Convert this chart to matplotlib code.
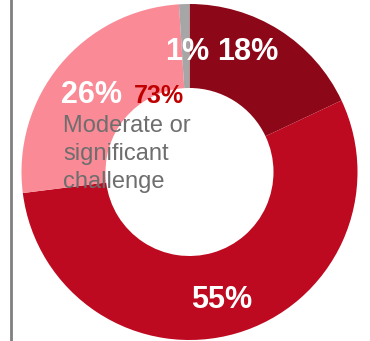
import matplotlib.pyplot as plt

# 数据
shares = [18, 55, 26, 1]
share_labels = ["18%", "55%", "26%", "1%"]
colors = ["#8C0717", "#BE0A20", "#F98A96", "#A6A6A6"]
total_label = "73%"
total_lines = ["Moderate or", "significant", "challenge"]

W, H = 370, 341
fig = plt.figure(figsize=(W / 100, H / 100), dpi=100)
ax = fig.add_axes([0, 0, 1, 1])

cx, cy, r = 189.5, H - 172, 168
ax.pie(shares, colors=colors, startangle=90, counterclock=False,
       center=(cx, cy), radius=r, frame=True,
       wedgeprops=dict(width=r * 0.5, edgecolor="none"))
ax.set_xlim(0, W)
ax.set_ylim(0, H)
ax.axis("off")

# 左边竖线
ax.plot([11, 11], [0, H], color="#808080", lw=2)

font = ["Liberation Sans", "DejaVu Sans"]
# 百分比标签 (像素位置, 基线)
pos = [(248, 60), (222, 308), (92, 103), (187, 60)]
for (x, y), lab in zip(pos, share_labels):
    ax.text(x, H - y, lab, color="white", fontsize=22, fontweight="bold",
            family=font, ha="center", va="baseline")

ax.text(159, H - 103, total_label, color="#C00000", fontsize=18,
        fontweight="bold", family=font, ha="center", va="baseline")
for i, line in enumerate(total_lines):
    ax.text(63, H - 132 - 28 * i, line, color="#6E6E6E", fontsize=17,
            family=font, ha="left", va="baseline")

fig.savefig("out.png", dpi=100)
